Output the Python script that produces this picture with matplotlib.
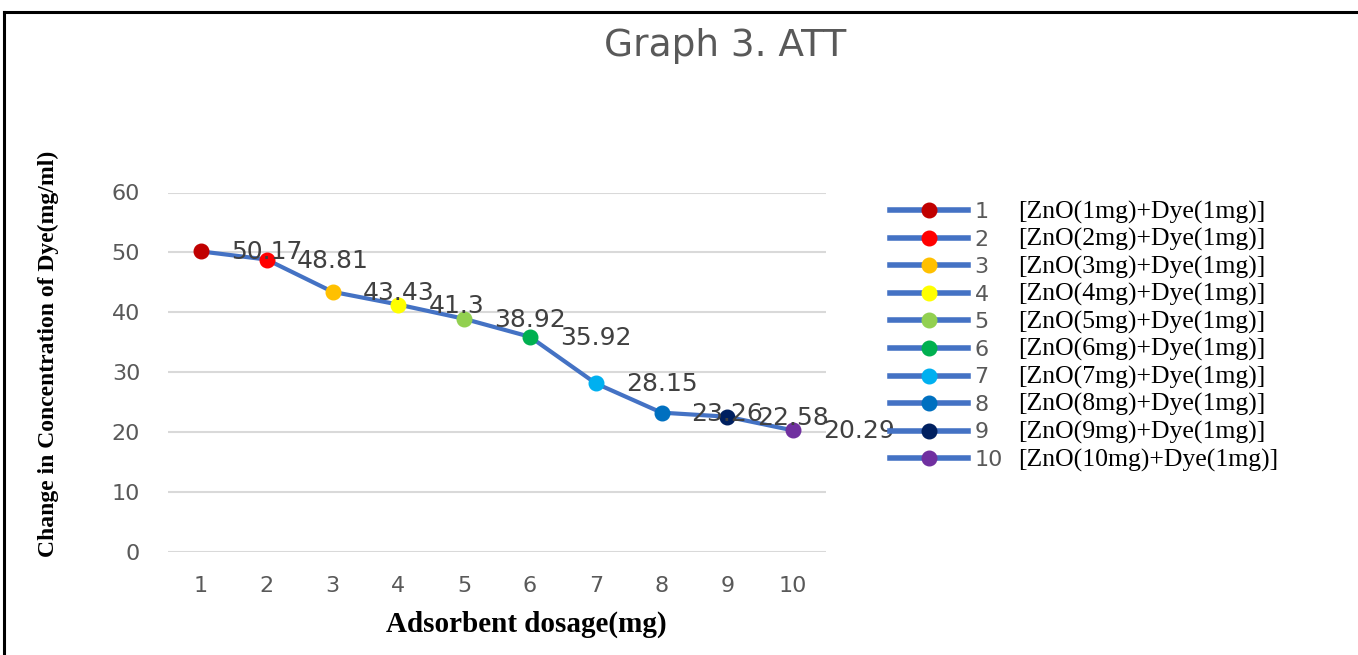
import matplotlib
matplotlib.use("Agg")
import matplotlib.pyplot as plt
from matplotlib.lines import Line2D

# ---- data ----
dosage = [1, 2, 3, 4, 5, 6, 7, 8, 9, 10]
concentration = [50.17, 48.81, 43.43, 41.3, 38.92, 35.92, 28.15, 23.26, 22.58, 20.29]
point_colors = ["#C00000", "#FF0000", "#FFC000", "#FFFF00", "#92D050",
                "#00B050", "#00B0F0", "#0070C0", "#002060", "#7030A0"]
legend_numbers = ["1", "2", "3", "4", "5", "6", "7", "8", "9", "10"]
legend_texts = ["[ZnO(%dmg)+Dye(1mg)]" % d for d in dosage]
yticks = [0, 10, 20, 30, 40, 50, 60]
title = "Graph 3. ATT"
xlabel = "Adsorbent dosage(mg)"
ylabel = "Change in Concentration of Dye(mg/ml)"

W, H = 1358, 655
DPI = 100
LINE = "#4472C4"
GRAY = "#595959"

fig = plt.figure(figsize=(W / DPI, H / DPI), dpi=DPI)
fig.patch.set_facecolor("white")
ax = fig.add_axes([168 / W, 1 - 552 / H, (826 - 168) / W, (552 - 192.5) / H])

ax.plot(dosage, concentration, color=LINE, lw=3, zorder=2)
for x, y, c in zip(dosage, concentration, point_colors):
    ax.plot([x], [y], marker="o", ls="none", markersize=10.5,
            markerfacecolor=c, markeredgecolor=c, zorder=3)
    ax.annotate(("%g" % y), (x, y), xytext=(30, -1), textcoords="offset pixels",
                ha="left", va="center", fontsize=18, color="#404040",
                family="DejaVu Sans", zorder=4)

ax.set_xlim(0.5, 10.5)
ax.set_ylim(0, 60)
ax.set_yticks(yticks)
ax.set_xticks(dosage)
ax.set_xticklabels([str(d) for d in dosage])
ax.grid(axis="y", color="#D9D9D9", lw=1.5)
ax.set_axisbelow(True)
for s in ax.spines.values():
    s.set_visible(False)
ax.tick_params(axis="both", length=0, labelsize=16, labelcolor=GRAY)
ax.tick_params(axis="y", pad=20)
ax.tick_params(axis="x", pad=17)

# legend (line + colored marker + number)
handles = [Line2D([], [], color=LINE, lw=4, marker="o", markersize=10.5,
                  markerfacecolor=c, markeredgecolor=c) for c in point_colors]
leg = ax.legend(handles, legend_numbers, loc="upper left",
                bbox_to_anchor=(890 / W, 1 - 202 / H), bbox_transform=fig.transFigure,
                frameon=False, borderpad=0, borderaxespad=0, handlelength=3.5,
                handletextpad=0.3, labelspacing=0.34, fontsize=16)
for t in leg.get_texts():
    t.set_color(GRAY)

fig.text(725 / W, 1 - 46 / H, title, ha="center", va="center",
         fontsize=27, color=GRAY, family="DejaVu Sans")
fig.text(526 / W, 1 - 624 / H, xlabel, ha="center", va="center",
         fontsize=21, fontweight="bold", family="Liberation Serif", color="black")
fig.text(48 / W, 1 - 354 / H, ylabel, ha="center", va="center", rotation=90,
         fontsize=17, fontweight="bold", family="Liberation Serif", color="black")

# border of the chart area (top and left edges visible)
fig.add_artist(Line2D([4 / W, 1.0], [1 - 12 / H, 1 - 12 / H], color="black",
                      lw=2.2, transform=fig.transFigure))
fig.add_artist(Line2D([4 / W, 4 / W], [0, 1 - 12 / H], color="black",
                      lw=2.2, transform=fig.transFigure))

# bracket texts aligned with the legend rows
fig.canvas.draw()
renderer = fig.canvas.get_renderer()
for t, s in zip(leg.get_texts(), legend_texts):
    bb = t.get_window_extent(renderer)
    yc = (bb.y0 + bb.y1) / 2
    fig.text(1018 / W, yc / H, s, ha="left", va="center", fontsize=18.5,
             family="Liberation Serif", color="black")

fig.savefig("out.png", dpi=DPI)
